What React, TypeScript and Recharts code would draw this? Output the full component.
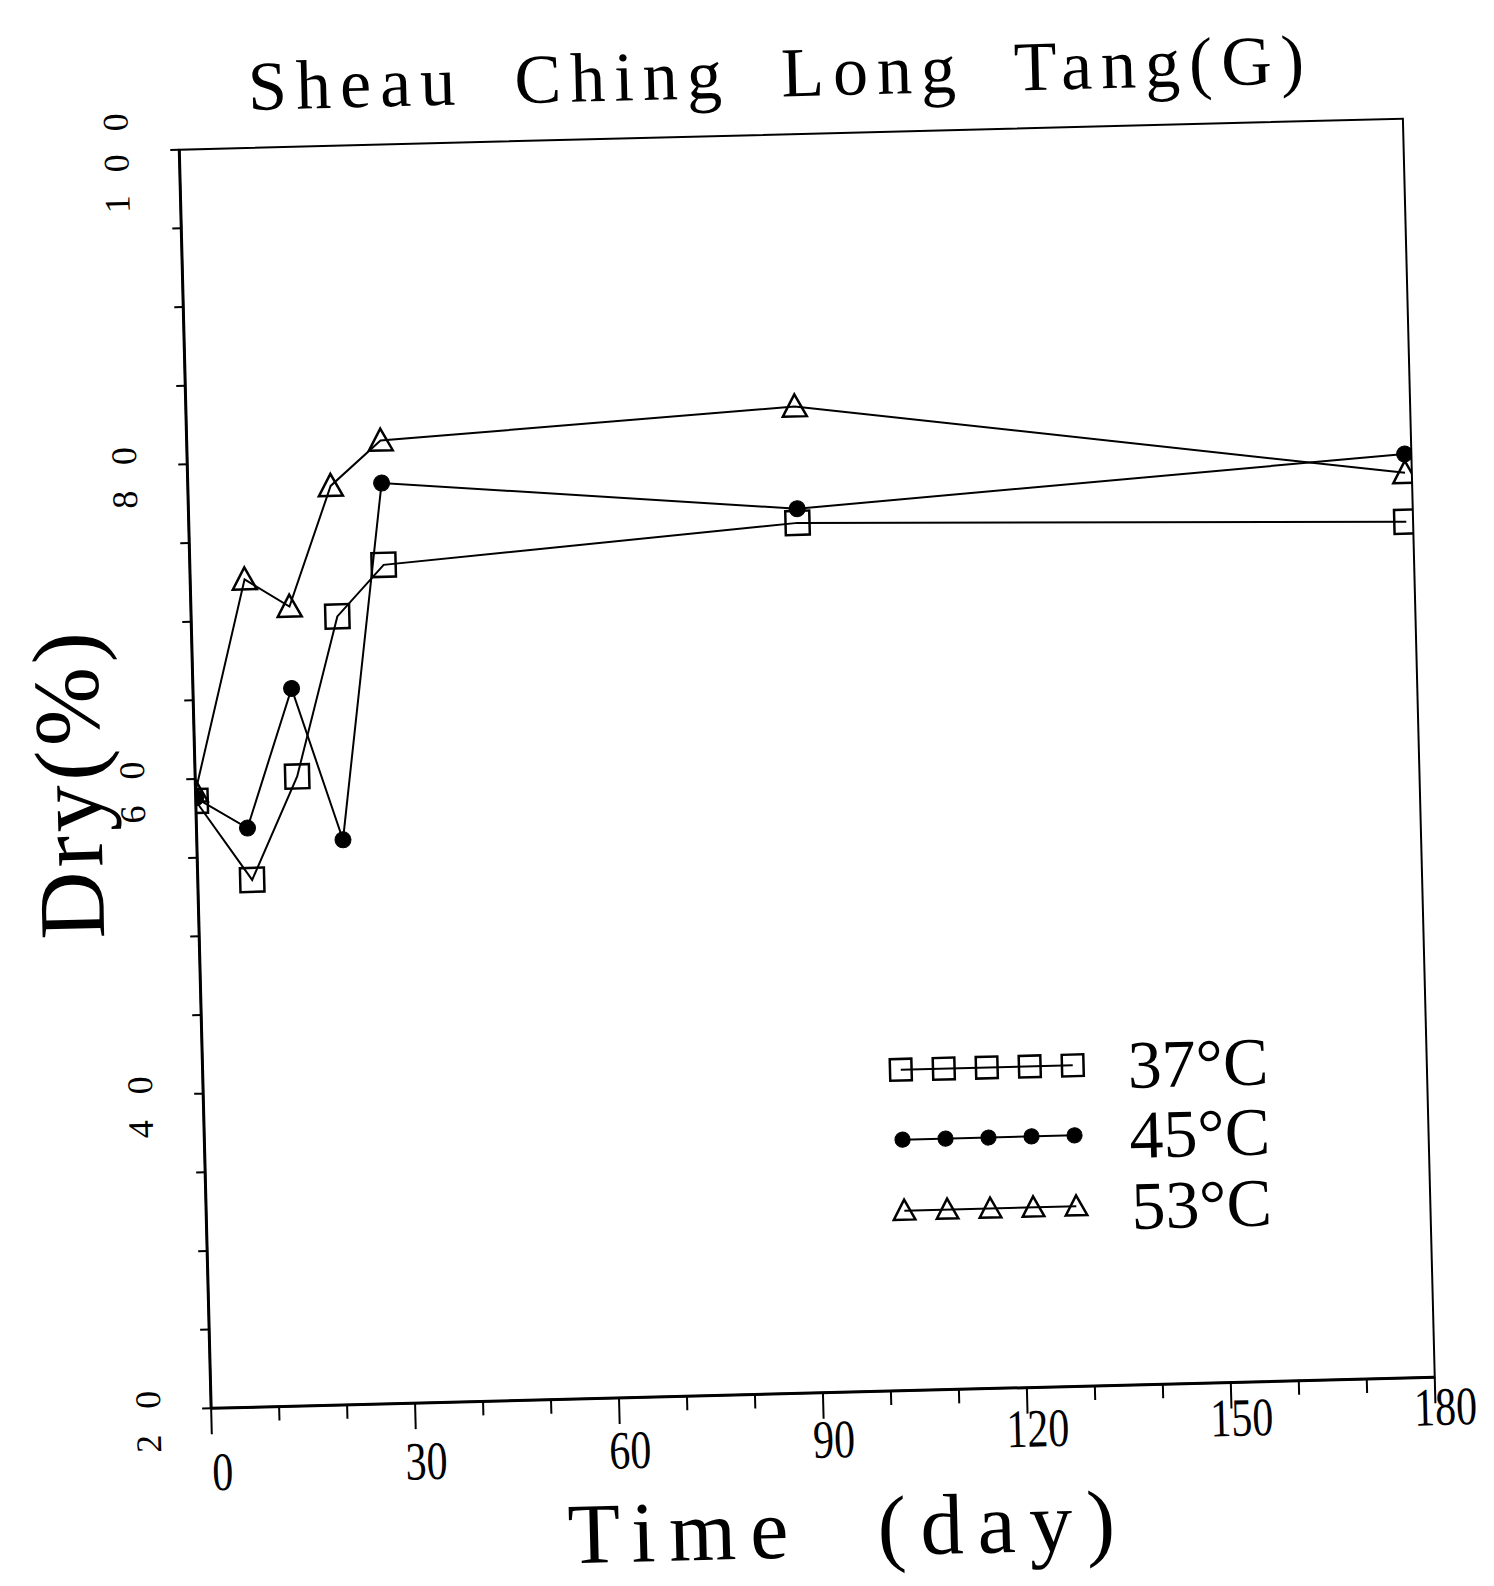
import React from 'react';
import { LineChart, Line, XAxis, YAxis, ReferenceArea, Legend, Customized } from 'recharts';

// Dry-matter readings (%) against storage time (days) at three temperatures
const days37 = [0, 8, 15, 21.5, 28.5, 89.5, 179];
const dry37 = [58.6, 53.5, 60.0, 70.1, 73.3, 75.3, 74.4];

const days45 = [0, 7.5, 14.5, 21.5, 28.5, 89.5, 179];
const dry45 = [58.8, 56.8, 65.6, 55.9, 78.5, 76.2, 78.7];

const days53 = [0, 8, 14.5, 21, 28.5, 89.5, 179];
const dry53 = [59.2, 72.6, 70.8, 78.4, 81.2, 82.7, 77.5];

const seriesNames = ['37°C', '45°C', '53°C'];

const xTicks = [0, 10, 20, 30, 40, 50, 60, 70, 80, 90, 100, 110, 120, 130, 140, 150, 160, 170, 180];
const xLabelEvery = 30;
const yTicks = [20, 25, 30, 35, 40, 45, 50, 55, 60, 65, 70, 75, 80, 85, 90, 95, 100];
const yLabelEvery = 20;

const chartTitle = 'Sheau Ching Long Tang(G)';
const xTitle = 'Time (day)';
const yTitle = 'Dry(%)';

const FONT = '"Liberation Serif", "DejaVu Serif", serif';

type Marker = 'square' | 'dot' | 'triangle';

const toRows = (days: number[], vals: number[]) => days.map((d, i) => ({ day: d, dry: vals[i] }));

const series: { name: string; rows: { day: number; dry: number }[]; marker: Marker }[] = [
  { name: seriesNames[0], rows: toRows(days37, dry37), marker: 'square' },
  { name: seriesNames[1], rows: toRows(days45, dry45), marker: 'dot' },
  { name: seriesNames[2], rows: toRows(days53, dry53), marker: 'triangle' },
];

function MarkerShape({ kind, cx, cy, s = 1 }: { kind: Marker; cx: number; cy: number; s?: number }) {
  if (kind === 'square') {
    const h = 12 * s;
    return <rect x={cx - h} y={cy - h} width={2 * h} height={2 * h} fill="none" stroke="#000" strokeWidth={2.5} />;
  }
  if (kind === 'dot') {
    return <circle cx={cx} cy={cy} r={8 * s} fill="#000" stroke="#000" strokeWidth={1} />;
  }
  const w = 12 * s;
  const h = 10 * s;
  return (
    <polygon
      points={`${cx - w},${cy + h} ${cx + w},${cy + h} ${cx},${cy - h - 2}`}
      fill="none"
      stroke="#000"
      strokeWidth={2.5}
    />
  );
}

const makeDot = (kind: Marker, name: string) => (p: any) => {
  if (p.cx == null || p.cy == null) return <g key={`${name}-${p.index}`} />;
  return (
    <g key={`${name}-${p.index}`}>
      <MarkerShape kind={kind} cx={p.cx} cy={p.cy} />
    </g>
  );
};

function XTick(props: any) {
  const { x, y, payload } = props;
  const v = payload.value as number;
  const major = v % xLabelEvery === 0;
  const digits = String(v).length;
  return (
    <g>
      <line x1={x} y1={y} x2={x} y2={y + (major ? 26 : 14)} stroke="#000" strokeWidth={2} />
      {major && (
        <text
          x={x + 10}
          y={y + 82 - v * 0.19}
          textAnchor="middle"
          fontFamily={FONT}
          fontSize={54}
          fill="#000"
          textLength={digits * 21}
          lengthAdjust="spacingAndGlyphs"
        >
          {v}
        </text>
      )}
    </g>
  );
}

function YTick(props: any) {
  const { x, y, payload } = props;
  const v = payload.value as number;
  const labelled = v % yLabelEvery === 0;
  const bx = x - 51;
  const cy = y + 12;
  const len = String(v).length === 3 ? 100 : 62;
  return (
    <g>
      <line x1={x - 9} y1={y} x2={x} y2={y} stroke="#000" strokeWidth={2} />
      {labelled && (
        <text
          x={bx}
          y={cy}
          transform={`rotate(-90 ${bx} ${cy})`}
          textAnchor="middle"
          fontFamily={FONT}
          fontSize={36}
          fill="#000"
          textLength={len}
          lengthAdjust="spacing"
        >
          {v}
        </text>
      )}
    </g>
  );
}

function LegendBox() {
  const rowY = [37, 107, 178];
  const markerX = [28, 71, 114, 157, 200];
  return (
    <svg width={430} height={220} style={{ overflow: 'visible' }}>
      {series.map((s, i) => (
        <g key={s.name}>
          <line x1={markerX[0]} y1={rowY[i]} x2={markerX[4]} y2={rowY[i]} stroke="#000" strokeWidth={2} />
          {markerX.map((mx) => (
            <MarkerShape key={mx} kind={s.marker} cx={mx} cy={rowY[i]} s={s.marker === 'dot' ? 0.95 : 0.9} />
          ))}
          <text x={255} y={rowY[i] + 24} fontFamily={FONT} fontSize={68} fill="#000">
            {s.name}
          </text>
        </g>
      ))}
    </svg>
  );
}

function Title() {
  return (
    <text
      x={798}
      y={96}
      textAnchor="middle"
      fontFamily={FONT}
      fontSize={70}
      fill="#000"
      letterSpacing={9}
      wordSpacing={24}
    >
      {chartTitle}
    </text>
  );
}

export default function App() {
  return (
    <div
      style={{
        position: 'absolute',
        left: 0,
        top: 0,
        width: 1494,
        height: 1586,
        background: '#fff',
        transform: 'rotate(-1.45deg)',
        transformOrigin: '807px 763px',
      }}
    >
      <LineChart width={1494} height={1586} margin={{ top: 134, right: 75, bottom: 93, left: 0 }}>
        <XAxis
          dataKey="day"
          type="number"
          domain={[0, 180]}
          ticks={xTicks}
          interval={0}
          allowDataOverflow
          tick={(p: any) => <XTick {...p} />}
          tickLine={false}
          tickSize={0}
          tickMargin={0}
          height={100}
          axisLine={{ stroke: '#000', strokeWidth: 3 }}
          label={{
            content: (p: any) => {
              const vb = p.viewBox || { x: 195, width: 1224, y: 1393 };
              return (
                <text
                  x={vb.x + vb.width / 2 + 22}
                  y={vb.y + 164}
                  textAnchor="middle"
                  fontFamily={FONT}
                  fontSize={86}
                  fill="#000"
                  letterSpacing={14}
                  wordSpacing={40}
                >
                  {xTitle}
                </text>
              );
            },
          }}
        />
        <YAxis
          type="number"
          domain={[20, 100]}
          ticks={yTicks}
          interval={0}
          allowDataOverflow
          tick={(p: any) => <YTick {...p} />}
          tickLine={false}
          tickSize={0}
          tickMargin={0}
          width={195}
          axisLine={{ stroke: '#000', strokeWidth: 3 }}
          label={{
            content: () => (
              <text
                x={100}
                y={765}
                transform="rotate(-90 100 765)"
                textAnchor="middle"
                fontFamily={FONT}
                fontSize={94}
                fill="#000"
                letterSpacing={4}
              >
                {yTitle}
              </text>
            ),
          }}
        />
        <ReferenceArea x1={0} x2={180} y1={20} y2={100} fill="none" stroke="#000" strokeWidth={2} ifOverflow="visible" />
        {series.map((s) => (
          <Line
            key={s.name}
            data={s.rows}
            dataKey="dry"
            name={s.name}
            type="linear"
            stroke="#000"
            strokeWidth={2}
            dot={makeDot(s.marker, s.name)}
            activeDot={false}
            isAnimationActive={false}
          />
        ))}
        <Legend
          layout="horizontal"
          verticalAlign="middle"
          content={() => <LegendBox />}
          wrapperStyle={{ left: 865, top: 1035, width: 430, height: 220 }}
        />
        <Customized component={<Title />} />
      </LineChart>
    </div>
  );
}
